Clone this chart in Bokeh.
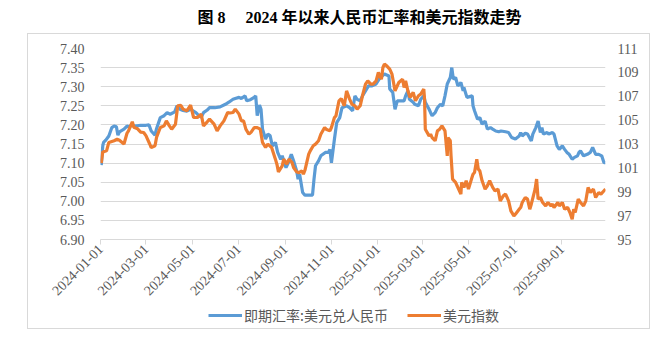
import math
import pandas as pd
from bokeh.plotting import figure
from bokeh.layouts import column
from bokeh.models import (Range1d, LinearAxis, FixedTicker, DatetimeTickFormatter,
                          PrintfTickFormatter, Legend, LegendItem, Label)
from bokeh.embed import file_html
from bokeh.resources import INLINE

title_text = "图 8\u3000 2024 年以来人民币汇率和美元指数走势"
series_names = ["即期汇率:美元兑人民币", "美元指数"]

usdcny_dates = [
    "2024-01-02", "2024-01-04", "2024-01-05", "2024-01-08", "2024-01-12", "2024-01-16", "2024-01-19",
    "2024-01-22", "2024-01-24", "2024-01-26", "2024-02-01", "2024-02-05", "2024-02-07", "2024-02-12",
    "2024-02-16", "2024-02-23", "2024-03-01", "2024-03-05", "2024-03-08", "2024-03-13", "2024-03-15",
    "2024-03-20", "2024-03-25", "2024-03-29", "2024-04-02", "2024-04-08", "2024-04-11", "2024-04-15",
    "2024-04-19", "2024-04-24", "2024-04-29", "2024-05-06", "2024-05-08", "2024-05-13", "2024-05-16",
    "2024-05-21", "2024-05-24", "2024-05-31", "2024-06-07", "2024-06-14", "2024-06-19", "2024-06-24",
    "2024-06-27", "2024-07-02", "2024-07-05", "2024-07-10", "2024-07-12", "2024-07-17", "2024-07-22",
    "2024-07-24", "2024-07-26", "2024-07-29", "2024-07-31", "2024-08-02", "2024-08-06", "2024-08-09",
    "2024-08-12", "2024-08-15", "2024-08-19", "2024-08-22", "2024-08-26", "2024-08-28", "2024-09-02",
    "2024-09-05", "2024-09-09", "2024-09-12", "2024-09-16", "2024-09-18", "2024-09-20", "2024-09-24",
    "2024-09-27", "2024-10-02", "2024-10-07", "2024-10-09", "2024-10-11", "2024-10-15", "2024-10-18",
    "2024-10-24", "2024-10-28", "2024-10-30", "2024-11-01", "2024-11-05", "2024-11-08", "2024-11-12",
    "2024-11-15", "2024-11-21", "2024-11-25", "2024-11-29", "2024-12-02", "2024-12-05", "2024-12-09",
    "2024-12-12", "2024-12-16", "2024-12-20", "2024-12-24", "2024-12-30", "2025-01-03", "2025-01-07",
    "2025-01-10", "2025-01-16", "2025-01-17", "2025-01-21", "2025-01-24", "2025-01-27", "2025-02-05",
    "2025-02-07", "2025-02-10", "2025-02-12", "2025-02-17", "2025-02-19", "2025-02-24", "2025-02-27",
    "2025-03-03", "2025-03-05", "2025-03-10", "2025-03-12", "2025-03-14", "2025-03-18", "2025-03-21",
    "2025-03-25", "2025-03-28", "2025-03-31", "2025-04-03", "2025-04-07", "2025-04-09", "2025-04-11",
    "2025-04-14", "2025-04-17", "2025-04-21", "2025-04-24", "2025-04-25", "2025-04-29", "2025-05-06",
    "2025-05-07", "2025-05-09", "2025-05-13", "2025-05-16", "2025-05-19", "2025-05-23", "2025-05-26",
    "2025-05-30", "2025-06-02", "2025-06-06", "2025-06-10", "2025-06-13", "2025-06-19", "2025-06-23",
    "2025-06-27", "2025-07-02", "2025-07-07", "2025-07-09", "2025-07-11", "2025-07-15", "2025-07-18",
    "2025-07-23", "2025-07-25", "2025-07-29", "2025-08-01", "2025-08-04", "2025-08-06", "2025-08-08",
    "2025-08-13", "2025-08-15", "2025-08-20", "2025-08-22", "2025-08-26", "2025-08-29", "2025-09-02",
    "2025-09-05", "2025-09-08", "2025-09-11", "2025-09-15", "2025-09-18", "2025-09-22", "2025-09-24",
    "2025-09-26", "2025-09-30", "2025-10-05", "2025-10-09", "2025-10-12", "2025-10-16", "2025-10-20",
    "2025-10-24", "2025-10-27", "2025-10-29",
]
usdcny = [
    7.095, 7.145, 7.154, 7.160, 7.171, 7.193, 7.197,
    7.195, 7.173, 7.182, 7.189, 7.197, 7.195, 7.199,
    7.197, 7.199, 7.199, 7.200, 7.184, 7.173, 7.190,
    7.219, 7.224, 7.232, 7.228, 7.234, 7.250, 7.241,
    7.238, 7.236, 7.241, 7.232, 7.228, 7.220, 7.232,
    7.239, 7.245, 7.245, 7.247, 7.254, 7.260, 7.267,
    7.269, 7.272, 7.269, 7.276, 7.263, 7.266, 7.272,
    7.276, 7.224, 7.252, 7.241, 7.189, 7.163, 7.176,
    7.172, 7.145, 7.154, 7.128, 7.110, 7.119, 7.088,
    7.101, 7.123, 7.106, 7.080, 7.058, 7.071, 7.023,
    7.016, 7.016, 7.016, 7.058, 7.093, 7.106, 7.119,
    7.128, 7.128, 7.136, 7.101, 7.163, 7.206, 7.219,
    7.245, 7.250, 7.245, 7.237, 7.276, 7.267, 7.263,
    7.276, 7.289, 7.302, 7.302, 7.307, 7.320, 7.328,
    7.333, 7.328, 7.294, 7.285, 7.241, 7.263, 7.263,
    7.276, 7.289, 7.267, 7.259, 7.254, 7.250, 7.267,
    7.276, 7.259, 7.241, 7.232, 7.224, 7.232, 7.245,
    7.254, 7.250, 7.276, 7.307, 7.324, 7.350, 7.320,
    7.324, 7.302, 7.311, 7.289, 7.298, 7.272, 7.276,
    7.250, 7.237, 7.215, 7.219, 7.202, 7.210, 7.189,
    7.193, 7.189, 7.184, 7.182, 7.184, 7.182, 7.180,
    7.167, 7.163, 7.171, 7.180, 7.171, 7.178, 7.176,
    7.158, 7.176, 7.193, 7.210, 7.180, 7.193, 7.176,
    7.180, 7.176, 7.180, 7.176, 7.145, 7.136, 7.145,
    7.136, 7.128, 7.123, 7.110, 7.115, 7.119, 7.128,
    7.132, 7.119, 7.123, 7.128, 7.141, 7.123, 7.123,
    7.119, 7.101, 7.101,
]

dxy_dates = [
    "2024-01-02", "2024-01-04", "2024-01-05", "2024-01-09", "2024-01-12", "2024-01-19", "2024-01-23",
    "2024-01-26", "2024-02-01", "2024-02-05", "2024-02-07", "2024-02-12", "2024-02-14", "2024-02-19",
    "2024-02-23", "2024-02-27", "2024-03-01", "2024-03-06", "2024-03-08", "2024-03-13", "2024-03-15",
    "2024-03-20", "2024-03-25", "2024-03-28", "2024-04-01", "2024-04-04", "2024-04-09", "2024-04-12",
    "2024-04-16", "2024-04-19", "2024-04-24", "2024-04-29", "2024-05-03", "2024-05-08", "2024-05-13",
    "2024-05-16", "2024-05-21", "2024-05-24", "2024-05-30", "2024-06-03", "2024-06-07", "2024-06-12",
    "2024-06-17", "2024-06-20", "2024-06-24", "2024-06-27", "2024-07-02", "2024-07-05", "2024-07-08",
    "2024-07-11", "2024-07-15", "2024-07-18", "2024-07-22", "2024-07-26", "2024-07-30", "2024-08-02",
    "2024-08-06", "2024-08-09", "2024-08-14", "2024-08-19", "2024-08-21", "2024-08-23", "2024-08-28",
    "2024-08-30", "2024-09-03", "2024-09-06", "2024-09-10", "2024-09-12", "2024-09-16", "2024-09-19",
    "2024-09-23", "2024-09-25", "2024-09-27", "2024-10-02", "2024-10-04", "2024-10-08", "2024-10-11",
    "2024-10-15", "2024-10-18", "2024-10-23", "2024-10-25", "2024-10-30", "2024-11-01", "2024-11-05",
    "2024-11-07", "2024-11-11", "2024-11-14", "2024-11-18", "2024-11-21", "2024-11-25", "2024-11-28",
    "2024-12-02", "2024-12-05", "2024-12-09", "2024-12-12", "2024-12-16", "2024-12-19", "2024-12-23",
    "2024-12-26", "2024-12-30", "2025-01-02", "2025-01-06", "2025-01-08", "2025-01-10", "2025-01-13",
    "2025-01-17", "2025-01-20", "2025-01-22", "2025-01-24", "2025-01-29", "2025-02-03", "2025-02-05",
    "2025-02-07", "2025-02-10", "2025-02-13", "2025-02-17", "2025-02-20", "2025-02-24", "2025-02-27",
    "2025-03-03", "2025-03-04", "2025-03-05", "2025-03-10", "2025-03-12", "2025-03-14", "2025-03-18",
    "2025-03-21", "2025-03-24", "2025-03-27", "2025-03-31", "2025-04-03", "2025-04-04", "2025-04-07",
    "2025-04-08", "2025-04-10", "2025-04-14", "2025-04-16", "2025-04-21", "2025-04-22", "2025-04-25",
    "2025-04-28", "2025-05-01", "2025-05-05", "2025-05-07", "2025-05-09", "2025-05-12", "2025-05-14",
    "2025-05-16", "2025-05-19", "2025-05-23", "2025-05-26", "2025-05-29", "2025-06-02", "2025-06-05",
    "2025-06-09", "2025-06-12", "2025-06-16", "2025-06-19", "2025-06-23", "2025-06-26", "2025-06-30",
    "2025-07-02", "2025-07-07", "2025-07-09", "2025-07-11", "2025-07-15", "2025-07-18", "2025-07-21",
    "2025-07-23", "2025-07-28", "2025-07-30", "2025-08-01", "2025-08-04", "2025-08-07", "2025-08-11",
    "2025-08-14", "2025-08-18", "2025-08-20", "2025-08-22", "2025-08-27", "2025-08-29", "2025-09-02",
    "2025-09-05", "2025-09-09", "2025-09-12", "2025-09-15", "2025-09-17", "2025-09-19", "2025-09-23",
    "2025-09-26", "2025-09-30", "2025-10-03", "2025-10-06", "2025-10-09", "2025-10-13", "2025-10-16",
    "2025-10-20", "2025-10-23", "2025-10-27", "2025-10-29",
]
dxy = [
    101.40, 102.35, 102.35, 102.43, 103.13, 103.27, 103.40,
    103.32, 103.00, 103.90, 104.10, 104.86, 104.40, 104.27,
    104.00, 103.96, 103.70, 103.00, 102.70, 102.85, 103.55,
    104.38, 104.52, 104.94, 104.52, 104.24, 104.66, 106.20,
    106.25, 105.92, 105.78, 106.25, 105.22, 105.22, 105.50,
    104.52, 104.86, 105.08, 104.66, 104.10, 104.52, 104.94,
    105.64, 105.60, 105.64, 105.92, 105.50, 104.94, 104.94,
    104.24, 103.82, 104.00, 104.38, 104.38, 104.24, 103.13,
    102.71, 102.99, 102.71, 101.73, 101.31, 100.67, 101.17,
    101.73, 101.31, 101.73, 101.45, 101.03, 100.67, 100.60,
    100.75, 100.47, 100.80, 102.15, 102.43, 102.85, 102.99,
    103.27, 103.82, 104.38, 104.24, 104.10, 104.38, 105.22,
    105.36, 106.62, 106.81, 106.20, 107.45, 106.76, 106.34,
    106.20, 105.92, 106.20, 107.04, 108.01, 108.29, 108.01,
    108.01, 108.29, 108.99, 108.43, 109.41, 109.69, 109.55,
    109.27, 108.85, 108.15, 107.45, 108.15, 108.43, 107.73,
    108.29, 107.45, 106.90, 107.32, 106.62, 107.04, 107.18,
    107.60, 106.76, 104.24, 103.68, 103.82, 103.54, 103.27,
    104.10, 104.24, 104.52, 104.10, 102.01, 103.54, 103.27,
    102.01, 100.06, 99.78, 99.50, 98.80, 99.78, 99.36,
    99.92, 99.22, 100.06, 100.47, 100.61, 101.73, 100.89,
    100.75, 99.92, 99.22, 99.50, 99.92, 99.36, 99.08,
    99.22, 98.24, 98.66, 98.80, 98.24, 97.40, 96.98,
    97.12, 97.54, 97.68, 98.10, 98.52, 98.38, 97.54,
    97.96, 99.22, 100.06, 98.38, 98.52, 98.10, 97.82,
    98.10, 97.82, 97.96, 97.68, 98.10, 97.82, 98.10,
    97.54, 97.68, 97.26, 96.70, 97.54, 97.26, 98.38,
    98.10, 97.82, 98.24, 99.36, 98.94, 99.22, 98.52,
    98.94, 98.80, 99.08, 99.22,
]

x_tick_dates = ["2024-01-01", "2024-03-01", "2024-05-01", "2024-07-01", "2024-09-01", "2024-11-01",
                "2025-01-01", "2025-03-01", "2025-05-01", "2025-07-01", "2025-09-01"]
x_start, x_end = "2024-01-01", "2025-10-29"
left_ticks = [6.90, 6.95, 7.00, 7.05, 7.10, 7.15, 7.20, 7.25, 7.30, 7.35, 7.40]
right_ticks = [95, 97, 99, 101, 103, 105, 107, 109, 111]

BLUE = "#5B9BD5"
ORANGE = "#ED7D31"
GRID = "#D9D9D9"
LABEL = "#595959"
SERIF = "Liberation Serif"
CJK = "Noto Sans CJK SC"
LW = 3.2

# shared horizontal geometry (all strips align their frames)
BL, FW, BR = 73, 505, 45


def strip(height, y_max):
    f = figure(frame_width=FW, frame_height=height,
               x_range=Range1d(0, FW), y_range=Range1d(0, y_max),
               x_axis_location=None, y_axis_location=None, output_backend="svg",
               toolbar_location=None, min_border_left=BL, min_border_right=BR,
               min_border_top=0, min_border_bottom=0)
    f.outline_line_color = None
    f.xgrid.grid_line_color = None
    f.ygrid.grid_line_color = None
    return f


x_ms = lambda d: pd.Timestamp(d).value // 10**6
tick_ms = [float(x_ms(d)) for d in x_tick_dates]

# ---- title strip ----
tf = strip(33, 33)
tf.margin = (0, 0, 0, 27)
tf.add_layout(Label(x=97, y=16, text=title_text, text_baseline="middle",
                    text_font=SERIF + ", " + CJK, text_font_size="16px",
                    text_font_style="bold", text_color="#000000"))

# ---- main chart ----
p = figure(frame_width=FW, frame_height=191,
           x_axis_type="datetime",
           x_range=Range1d(x_ms(x_start), x_ms(x_end)),
           y_range=Range1d(left_ticks[0], left_ticks[-1]),
           output_backend="svg", toolbar_location=None,
           min_border_left=BL, min_border_right=BR, min_border_top=15, min_border_bottom=66)
p.outline_line_color = None
p.border_fill_color = None
p.background_fill_color = None
p.margin = (0, 0, 0, 27)
p.styles = {"box-shadow": f"inset 1px 1px 0 0 {GRID}, inset -1px 0 0 0 {GRID}"}
p.extra_y_ranges = {"dxy": Range1d(right_ticks[0], right_ticks[-1])}

xa = p.xaxis[0]
xa.ticker = FixedTicker(ticks=tick_ms)
fmt = "%Y-%m-%d"
xa.formatter = DatetimeTickFormatter(days=fmt, months=fmt, years=fmt, hours=fmt, minutes=fmt)
xa.major_label_orientation = math.pi / 4
xa.axis_line_color = GRID
xa.major_tick_line_color = GRID
xa.major_tick_in = 0
xa.major_tick_out = 5
xa.minor_tick_line_color = None
xa.major_label_text_font = SERIF
xa.major_label_text_font_size = "14px"
xa.major_label_text_color = LABEL
xa.major_label_standoff = 2

ya = p.yaxis[0]
ya.ticker = FixedTicker(ticks=left_ticks)
ya.formatter = PrintfTickFormatter(format="%.2f")
ya.axis_line_color = None
ya.major_tick_line_color = None
ya.major_tick_in = 0
ya.major_tick_out = 0
ya.minor_tick_line_color = None
ya.major_label_text_font = SERIF
ya.major_label_text_font_size = "14px"
ya.major_label_text_color = LABEL
ya.major_label_standoff = 16

ra = LinearAxis(y_range_name="dxy", ticker=FixedTicker(ticks=right_ticks),
                formatter=PrintfTickFormatter(format="%d"))
ra.axis_line_color = None
ra.major_tick_line_color = None
ra.major_tick_in = 0
ra.major_tick_out = 0
ra.minor_tick_line_color = None
ra.major_label_text_font = SERIF
ra.major_label_text_font_size = "14px"
ra.major_label_text_color = LABEL
ra.major_label_standoff = 12
p.add_layout(ra, "right")

p.xgrid.grid_line_color = None
p.ygrid.ticker = FixedTicker(ticks=left_ticks)
p.ygrid.grid_line_color = GRID
p.ygrid.grid_line_width = 1

p.line(pd.to_datetime(usdcny_dates), usdcny, line_color=BLUE, line_width=LW)
p.line(pd.to_datetime(dxy_dates), dxy, line_color=ORANGE, line_width=LW, y_range_name="dxy")

# ---- legend strip (its renderers carry the same series, outside this strip's view) ----
lf = strip(24, 24)
lf.border_fill_color = None
lf.background_fill_color = None
lf.margin = (0, 0, 0, 27)
lf.styles = {"box-shadow": f"inset 1px -1px 0 0 {GRID}, inset -1px 0 0 0 {GRID}"}
k1 = lf.line(pd.to_datetime(usdcny_dates), usdcny, line_color=BLUE, line_width=LW)
k2 = lf.line(pd.to_datetime(dxy_dates), dxy, line_color=ORANGE, line_width=LW)
legend = Legend(items=[LegendItem(label=series_names[0], renderers=[k1]),
                       LegendItem(label=series_names[1], renderers=[k2])],
                orientation="horizontal", location=(108, 4),
                border_line_color=None, background_fill_alpha=0,
                padding=0, margin=0, spacing=19, glyph_width=34, glyph_height=16,
                label_height=16, label_standoff=2,
                label_text_font=CJK, label_text_font_size="14px", label_text_color=LABEL)
lf.add_layout(legend)

layout = column(tf, p, lf, spacing=0)
open("out.html", "w").write(file_html(layout, INLINE))
